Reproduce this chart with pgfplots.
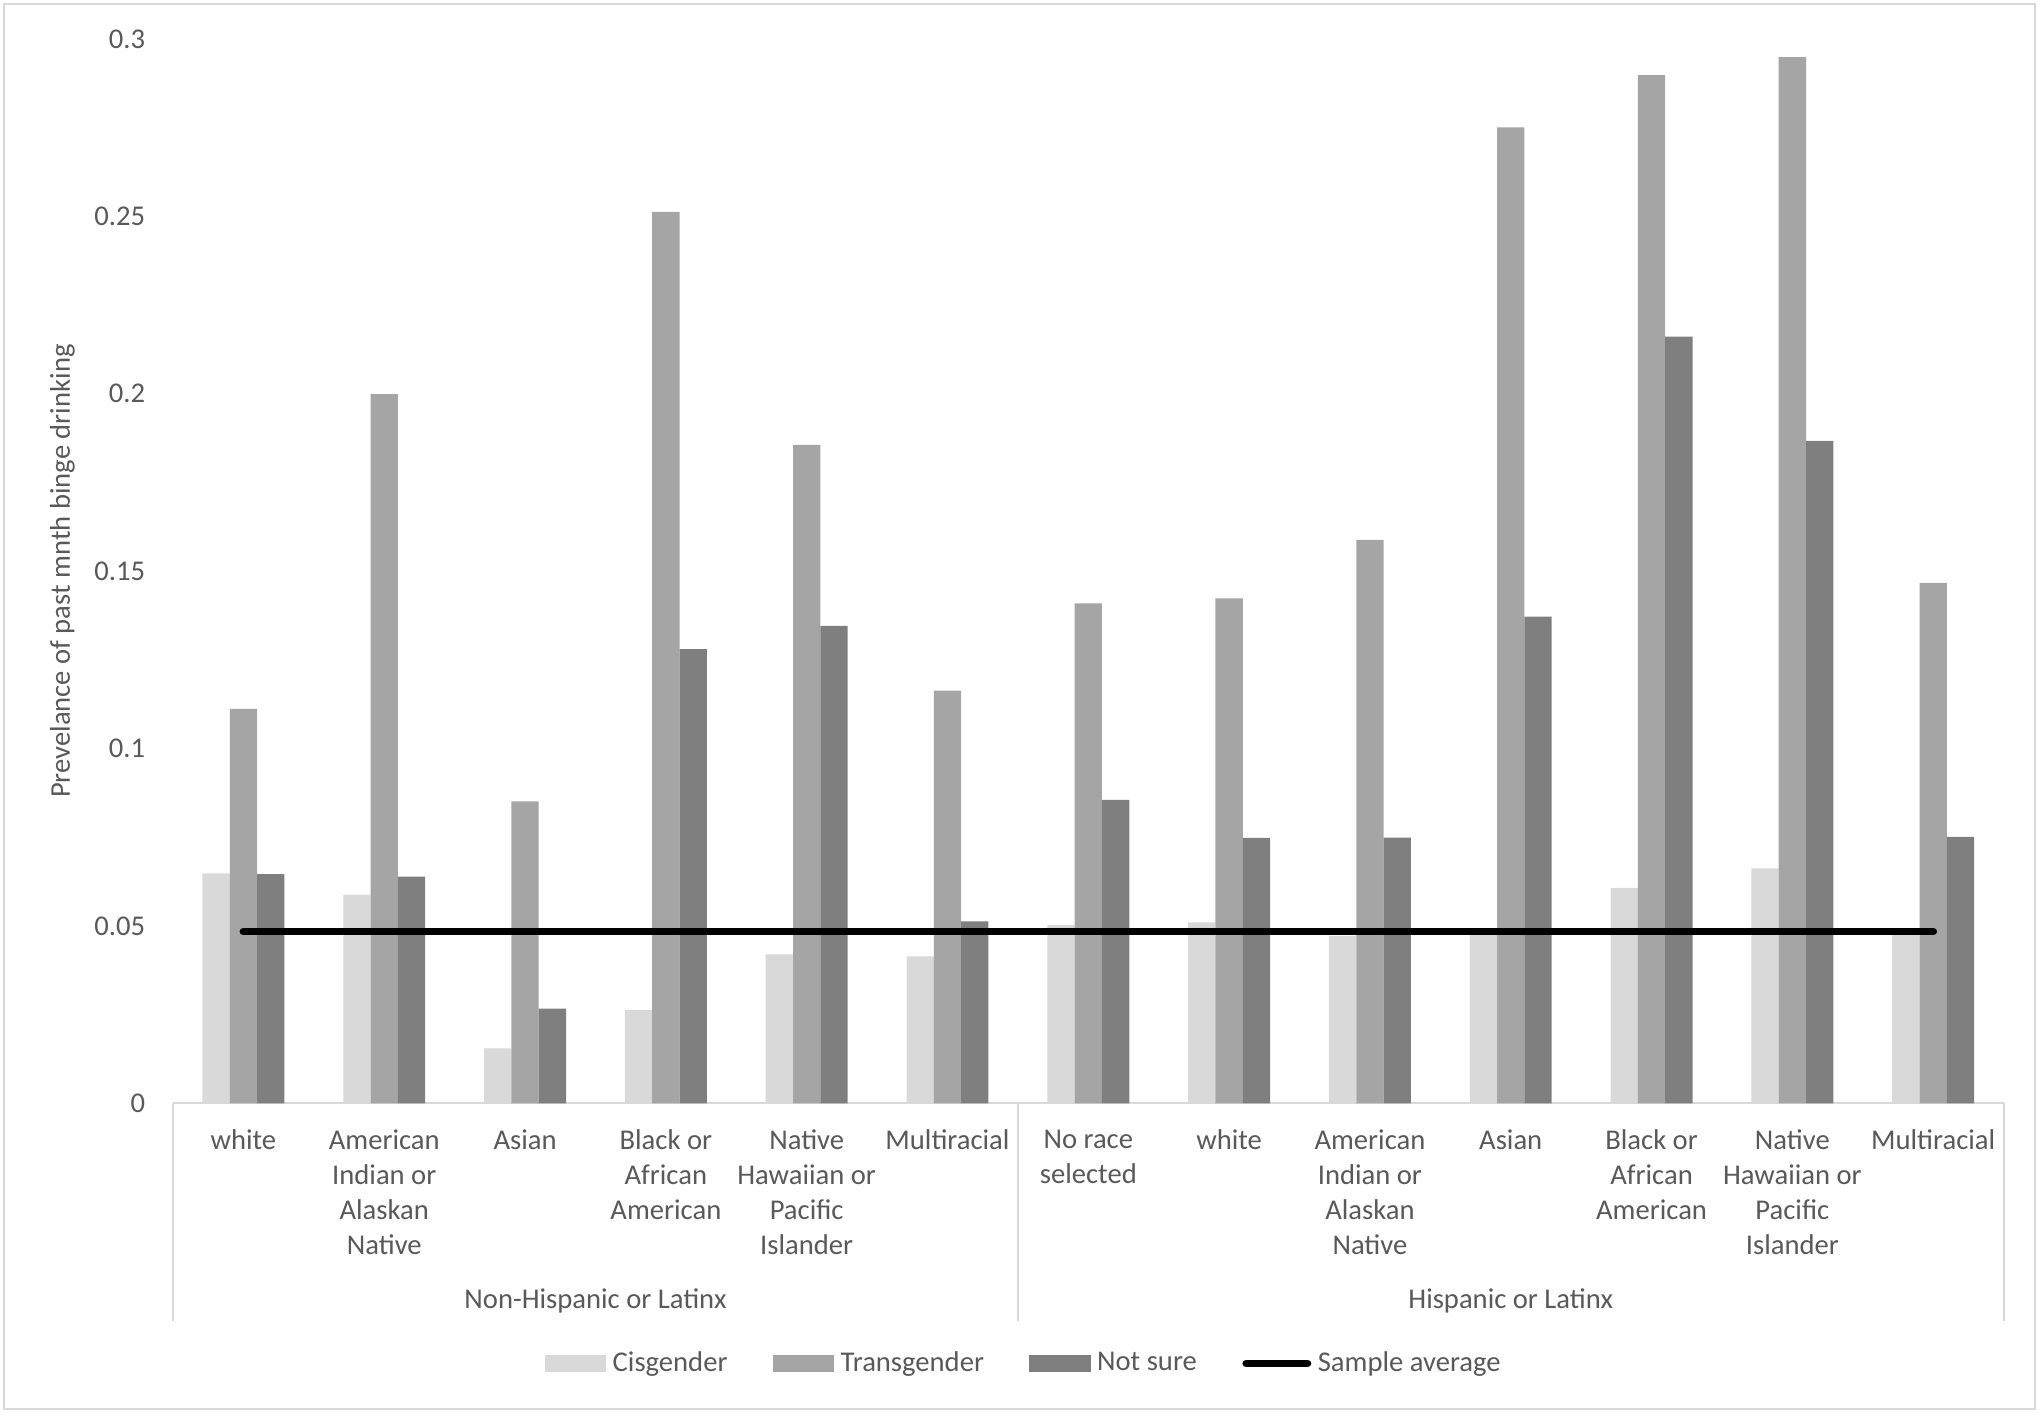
\documentclass[border=0pt]{standalone}
\usepackage{pgfplots}
\pgfplotsset{compat=1.18}
\usepackage{fontspec}
\setmainfont{Carlito}
\definecolor{cisc}{HTML}{D9D9D9}
\definecolor{transc}{HTML}{A5A5A5}
\definecolor{notc}{HTML}{7F7F7F}
\definecolor{txt}{HTML}{595959}
\definecolor{lin}{HTML}{D9D9D9}
\begin{document}
\begin{tikzpicture}
\begin{axis}[
  at={(0pt,0pt)}, anchor=south west,
  scale only axis, width=703.5pt, height=409pt,
  xmin=-0.5, xmax=12.5, ymin=0, ymax=0.3,
  axis line style={draw=none},
  major tick length=0pt,
  ytick={0,0.05,0.1,0.15,0.2,0.25,0.3},
  yticklabels={0,0.05,0.1,0.15,0.2,0.25,0.3},
  /pgf/number format/assume math mode=true,
  yticklabel style={font=\fontsize{11}{13.5}\selectfont, text=txt, anchor=east, inner sep=0pt, xshift=-10.5pt},
  xtick={0,1,2,3,4,5,6,7,8,9,10,11,12},
  xticklabels={white\\{}, American\\Indian or\\Alaskan\\Native, Asian\\{}, Black or\\African\\American, Native\\Hawaiian or\\Pacific\\Islander, Multiracial\\{}, No race\\selected, white\\{}, American\\Indian or\\Alaskan\\Native, Asian\\{}, Black or\\African\\American, Native\\Hawaiian or\\Pacific\\Islander, Multiracial\\{}},
  xticklabel style={font=\fontsize{11}{13.5}\selectfont, text=txt, align=center, anchor=north, inner sep=0pt, yshift=-10pt},
  every axis y label/.style={at={(axis description cs:-0.0604,0.5)}, rotate=90, anchor=center},
  ylabel={Prevelance of past mnth binge drinking},
  ylabel style={font=\fontsize{11}{13.5}\selectfont, text=txt},
  clip=false,
  legend style={at={(axis description cs:0.466,-0.2445)}, anchor=center, draw=none, fill=none,
    legend columns=4, font=\fontsize{11}{13.5}\selectfont, text=txt,
    nodes={inner sep=2.5pt},
    /tikz/every even column/.append style={column sep=15pt}},
]
\draw[lin, line width=0.8pt] (axis cs:-0.5,0) -- (axis cs:12.5,0);
\addplot[ybar, bar width=10.5pt, bar shift=-10.5pt, fill=cisc, draw=none,
  legend image code/.code={\fill[cisc] (0pt,-3.25pt) rectangle (23.5pt,3.25pt);}]
  coordinates {(0,0.0648) (1,0.0588) (2,0.0155) (3,0.0263) (4,0.0420) (5,0.0414) (6,0.0502) (7,0.0510) (8,0.0472) (9,0.0474) (10,0.0607) (11,0.0662) (12,0.0474)};
\addlegendentry{Cisgender}
\addplot[ybar, bar width=10.5pt, bar shift=0pt, fill=transc, draw=none,
  legend image code/.code={\fill[transc] (0pt,-3.25pt) rectangle (23.5pt,3.25pt);}]
  coordinates {(0,0.1112) (1,0.1999) (2,0.0851) (3,0.2513) (4,0.1856) (5,0.1163) (6,0.1409) (7,0.1423) (8,0.1588) (9,0.2751) (10,0.2898) (11,0.2949) (12,0.1467)};
\addlegendentry{Transgender}
\addplot[ybar, bar width=10.5pt, bar shift=10.5pt, fill=notc, draw=none,
  legend image code/.code={\fill[notc] (0pt,-3.25pt) rectangle (23.5pt,3.25pt);}]
  coordinates {(0,0.0646) (1,0.0639) (2,0.0267) (3,0.1280) (4,0.1346) (5,0.0513) (6,0.0855) (7,0.0748) (8,0.0749) (9,0.1372) (10,0.2161) (11,0.1867) (12,0.0751)};
\addlegendentry{Not sure}
\addplot[sharp plot, black, line width=3pt, line cap=round, mark=none,
  legend image code/.code={\draw[black, line width=3pt, line cap=round] (1.5pt,0pt) -- (25pt,0pt);}]
  coordinates {(0,0.0484) (12,0.0484)};
\addlegendentry{Sample average}
\draw[lin, line width=0.8pt] (axis cs:-0.5,0) -- ++(0pt,-83.5pt);
\draw[lin, line width=0.8pt] (axis cs:5.5,0) -- ++(0pt,-83.5pt);
\draw[lin, line width=0.8pt] (axis cs:12.5,0) -- ++(0pt,-83.5pt);
\node[font=\fontsize{11}{13.5}\selectfont, text=txt, anchor=base] at ([yshift=-79pt]axis cs:2.5,0) {Non-Hispanic or Latinx};
\node[font=\fontsize{11}{13.5}\selectfont, text=txt, anchor=base] at ([yshift=-79pt]axis cs:9,0) {Hispanic or Latinx};
\end{axis}
\draw[lin, line width=0.8pt] (-65pt,-117.5pt) rectangle (715.5pt,422.5pt);
\pgfresetboundingbox
\path (-66.5pt,-120pt) rectangle (717.5pt,424pt);
\end{tikzpicture}
\end{document}
